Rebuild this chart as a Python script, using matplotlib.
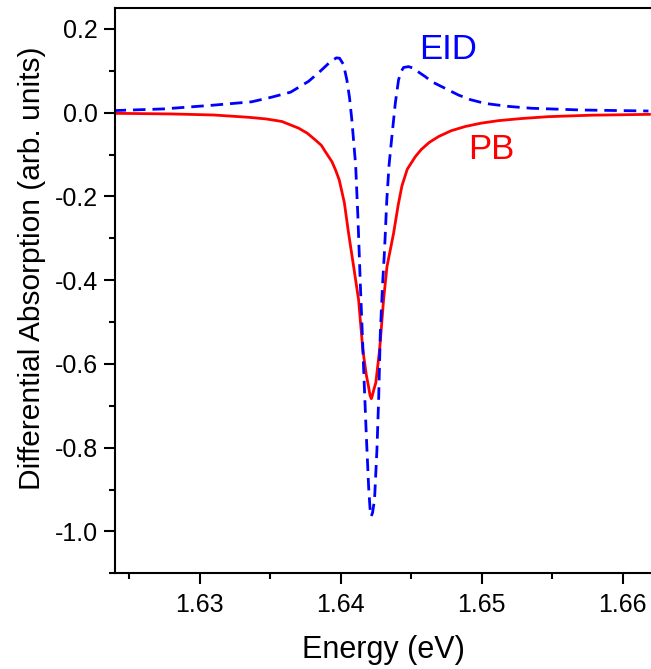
import numpy as np
import matplotlib
matplotlib.use("Agg")
import matplotlib.pyplot as plt
from matplotlib import rc
from matplotlib.ticker import MultipleLocator, FormatStrFormatter

rc('font', **{'family': 'sans-serif', 'sans-serif': ['Liberation Sans', 'DejaVu Sans'], 'size': 18})

# pump-probe spectra
energy_pb = [1.62391, 1.62800, 1.63099, 1.63347, 1.63473, 1.63583, 1.63702, 1.63763,
             1.63820, 1.63863, 1.63891, 1.63938, 1.63965, 1.63990, 1.64026, 1.64056,
             1.64092, 1.64127, 1.64157, 1.64181, 1.64198, 1.64208, 1.64217, 1.64225,
             1.64236, 1.64249, 1.64276, 1.64304, 1.64328, 1.64375, 1.64408, 1.64434,
             1.64472, 1.64529, 1.64571, 1.64628, 1.64694, 1.64784, 1.64883, 1.64996,
             1.65119, 1.65280, 1.65471, 1.65776, 1.66189]
pb = [-0.0015, -0.003, -0.0055, -0.011, -0.015, -0.021, -0.037, -0.049,
      -0.065, -0.078, -0.093, -0.117, -0.138, -0.161, -0.215, -0.288,
      -0.368, -0.447, -0.566, -0.625, -0.655, -0.675, -0.683, -0.675,
      -0.660, -0.645, -0.566, -0.447, -0.368, -0.288, -0.220, -0.175,
      -0.135, -0.105, -0.088, -0.071, -0.057, -0.043, -0.033, -0.025,
      -0.019, -0.014, -0.0095, -0.006, -0.004]

energy_eid = [1.62390, 1.62745, 1.63099, 1.63369, 1.63510, 1.63645, 1.63773, 1.63858,
              1.63928, 1.63970, 1.63992, 1.64020, 1.64044, 1.64063, 1.64079, 1.64106,
              1.64122, 1.64139, 1.64155, 1.64162, 1.64181, 1.64198, 1.64208, 1.64217,
              1.64226, 1.64240, 1.64257, 1.64269, 1.64281, 1.64297, 1.64311, 1.64327,
              1.64343, 1.64363, 1.64387, 1.64410, 1.64428, 1.64446, 1.64481, 1.64510,
              1.64552, 1.64600, 1.64646, 1.64741, 1.64836, 1.64921, 1.65025, 1.65190,
              1.65355, 1.65709, 1.66182]
eid = [0.005, 0.009, 0.018, 0.026, 0.037, 0.049, 0.075, 0.100,
       0.122, 0.131, 0.130, 0.115, 0.078, 0.035, -0.017, -0.125,
       -0.248, -0.407, -0.542, -0.606, -0.765, -0.893, -0.945, -0.964,
       -0.955, -0.924, -0.805, -0.686, -0.526, -0.410, -0.328, -0.208,
       -0.125, -0.057, 0.022, 0.078, 0.098, 0.108, 0.110, 0.107,
       0.097, 0.086, 0.074, 0.058, 0.042, 0.031, 0.022, 0.015,
       0.0105, 0.0064, 0.004]

fig = plt.figure(figsize=(6.51, 6.69), dpi=100)
ax = fig.add_axes([115/651, 95.7/669, 1 - 115/651, 565.3/669])

ax.plot(energy_pb, pb, color='#ff0000', linewidth=2.0, linestyle='-')
ax.plot(energy_eid, eid, color='#0000ff', linewidth=2.0, linestyle='--', dashes=(4.5, 2.5))

ax.text(1.64761, 0.151, 'EID', color='#0000ff', fontsize=25, ha='center', va='center')
ax.text(1.65066, -0.087, 'PB', color='#ff0000', fontsize=25, ha='center', va='center')

ax.set_xlim(1.624, 1.662)
ax.set_ylim(-1.1, 0.25)
ax.xaxis.set_major_locator(MultipleLocator(0.01))
ax.xaxis.set_minor_locator(MultipleLocator(0.005))
ax.yaxis.set_major_locator(MultipleLocator(0.2))
ax.yaxis.set_minor_locator(MultipleLocator(0.1))
ax.xaxis.set_major_formatter(FormatStrFormatter('%.2f'))
ax.yaxis.set_major_formatter(FormatStrFormatter('%.1f'))

for s in ax.spines.values():
    s.set_linewidth(1.5)
ax.spines['right'].set_visible(False)
ax.tick_params(which='major', direction='out', length=8, width=1.5, labelsize=18)
ax.tick_params(which='minor', direction='out', length=4.5, width=1.5)
ax.tick_params(axis='x', which='major', pad=6)
ax.tick_params(axis='y', which='major', pad=4.5)

ax.set_xlabel('Energy (eV)', fontsize=22, labelpad=13)
ax.set_ylabel('Differential Absorption (arb. units)', fontsize=21.5)
ax.yaxis.set_label_coords(-0.129, 0.539)

plt.savefig('out.png', dpi=100)
